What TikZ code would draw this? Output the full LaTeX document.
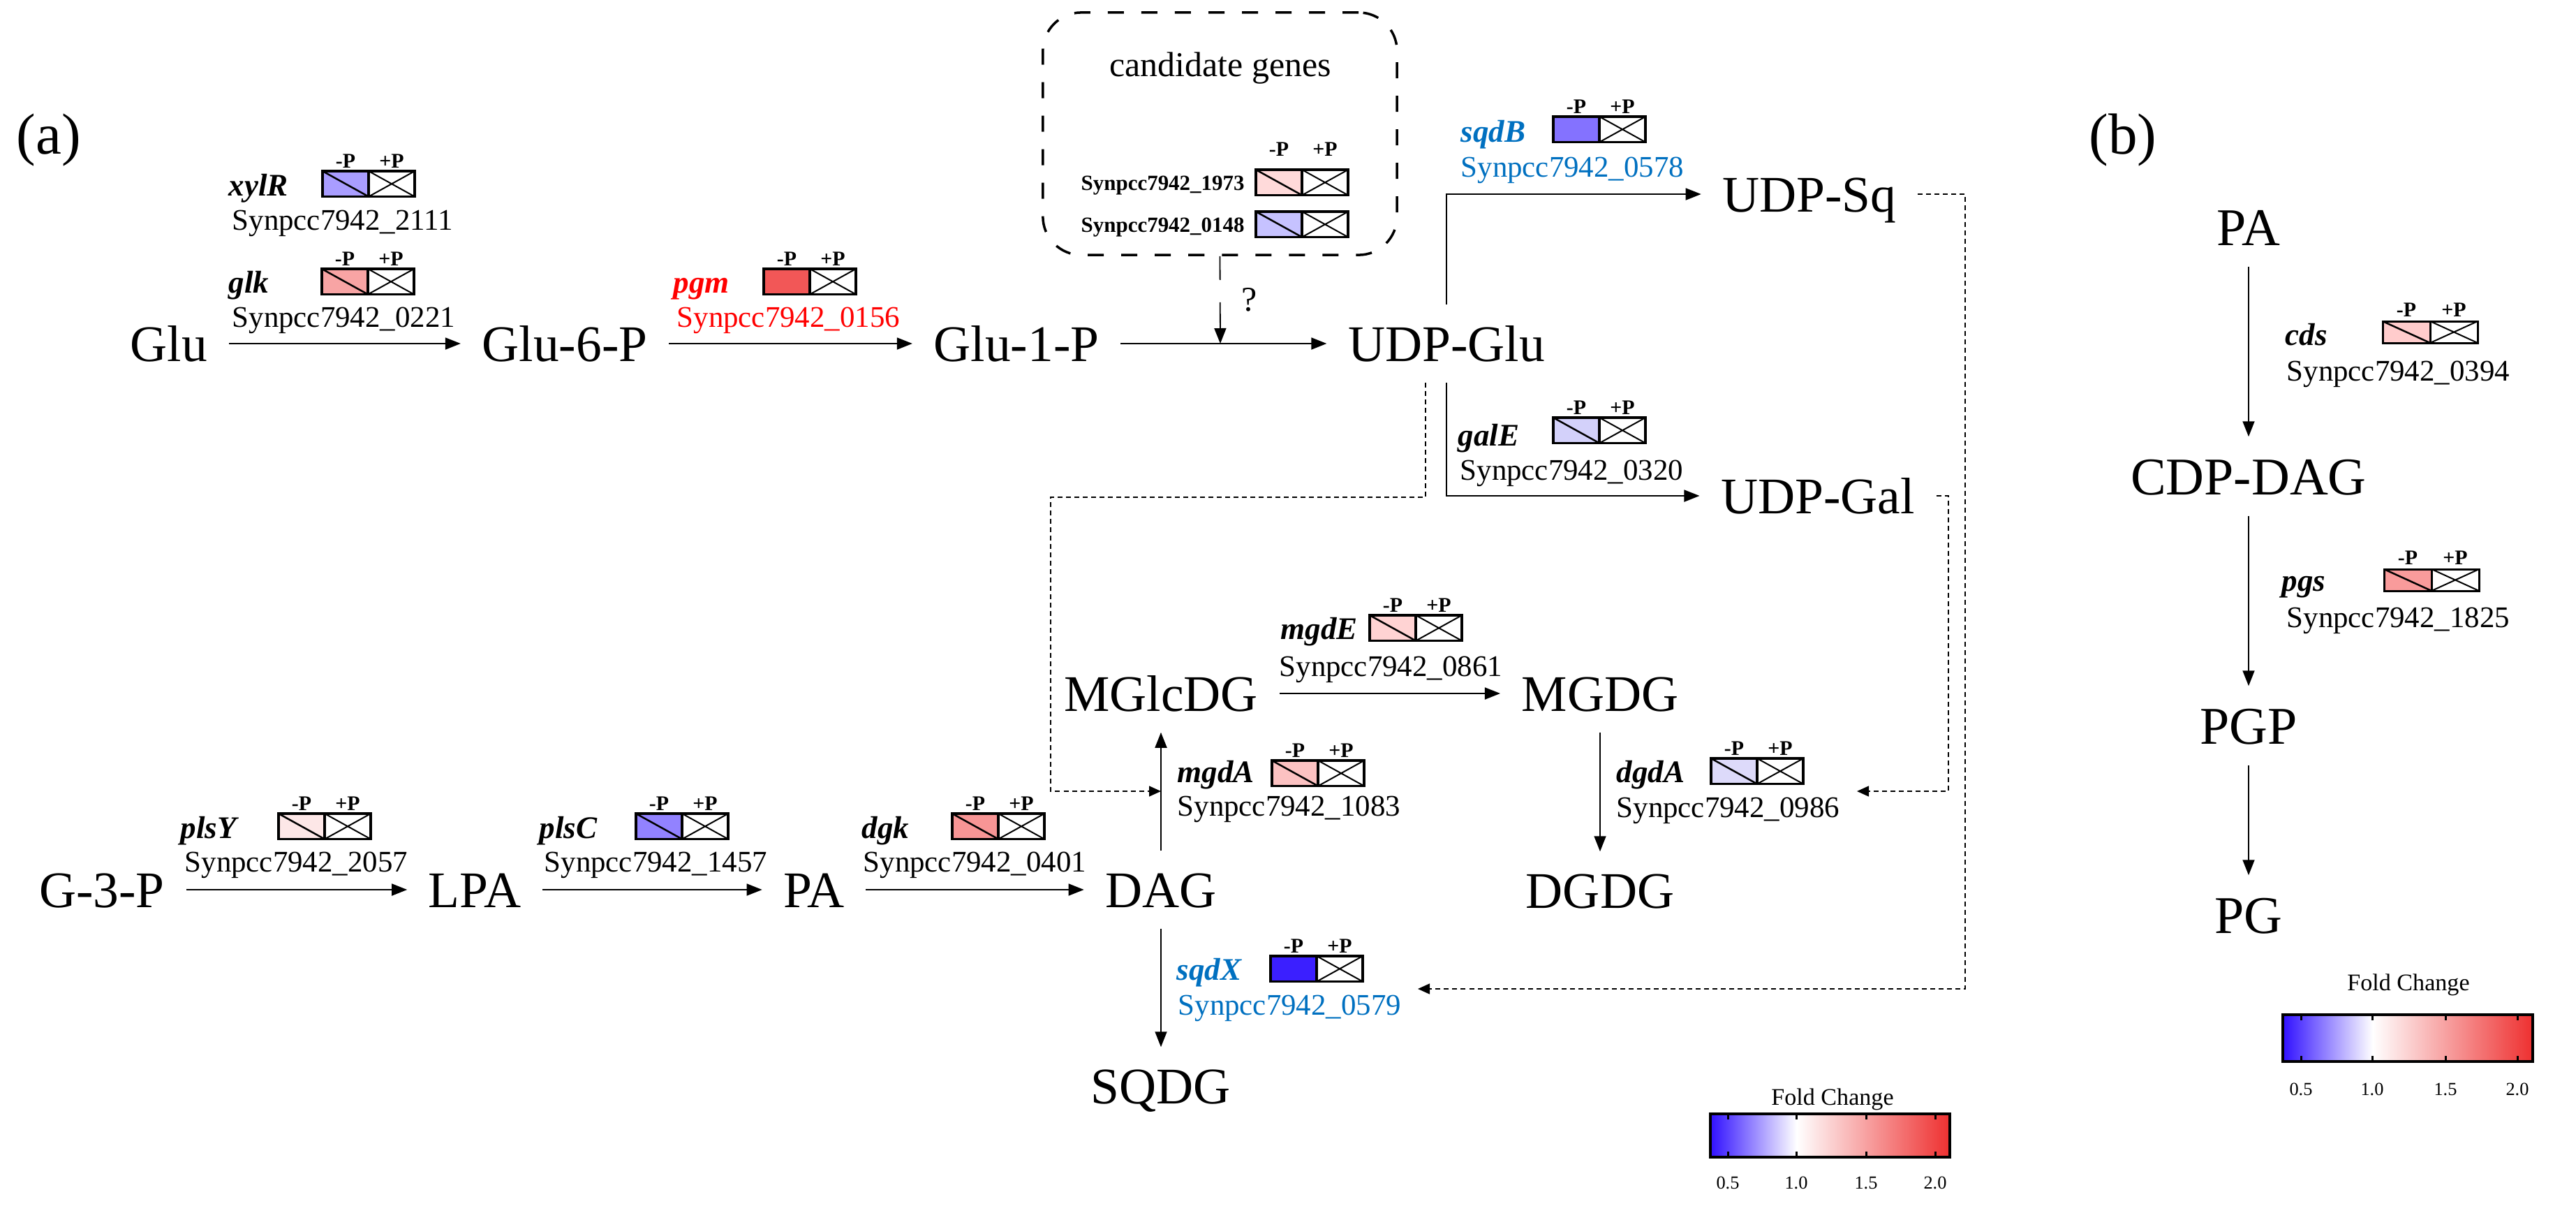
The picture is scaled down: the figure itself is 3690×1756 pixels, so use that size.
\documentclass[tikz,border=0pt]{standalone}
\usepackage{fontspec}
\setmainfont{Liberation Serif}
\usetikzlibrary{arrows.meta}

\definecolor{geneblue}{HTML}{0070C0}
\definecolor{genered}{HTML}{FF0000}
\definecolor{fcblue}{HTML}{3010FF}
\definecolor{fcred}{HTML}{EE3030}
\definecolor{fcxylr}{HTML}{A99DFF}
\definecolor{fcglk}{HTML}{F8A4A4}
\definecolor{fcpgm}{HTML}{F25757}
\definecolor{fcA}{HTML}{FFDADA}
\definecolor{fcB}{HTML}{C6C2FF}
\definecolor{fcsqdb}{HTML}{8472FF}
\definecolor{fcgale}{HTML}{D3D1FA}
\definecolor{fcmgde}{HTML}{FFD3D3}
\definecolor{fcmgda}{HTML}{FCC2C2}
\definecolor{fcdgda}{HTML}{DDDAFA}
\definecolor{fcplsy}{HTML}{FDE7E7}
\definecolor{fcplsc}{HTML}{9282FF}
\definecolor{fcdgk}{HTML}{F79595}
\definecolor{fcsqdx}{HTML}{3B1FFF}
\definecolor{fccds}{HTML}{FFCCCC}
\definecolor{fcpgs}{HTML}{F99B9B}

\pgfdeclarehorizontalshading{foldchange}{100bp}{color(0bp)=(fcblue); color(25bp)=(fcblue); color(43bp)=(white); color(75bp)=(fcred); color(100bp)=(fcred)}

\newcommand{\metsize}{\fontsize{20.9pt}{24pt}\selectfont}
\newcommand{\metbsize}{\fontsize{21.6pt}{25pt}\selectfont}
\newcommand{\gidsize}{\fontsize{12.2pt}{14pt}\selectfont}
\newcommand{\gnsize}{\fontsize{12.8pt}{15pt}\selectfont}
\newcommand{\plabsize}{\fontsize{8.5pt}{10pt}\selectfont}
\newcommand{\candsize}{\fontsize{14.2pt}{17pt}\selectfont}
\newcommand{\candidsize}{\fontsize{8.8pt}{10pt}\selectfont}
\newcommand{\legsize}{\fontsize{9.7pt}{11pt}\selectfont}
\newcommand{\legnumsize}{\fontsize{7.5pt}{9pt}\selectfont}
\newcommand{\panelsize}{\fontsize{23.6pt}{28pt}\selectfont}

% two cells: -P (coloured) and +P (crossed)
\newcommand{\fcpair}[5][]{%
  \node[mcell, fill=#4, #5, #1] (#2m) at (#3) {};
  \node[pcell, #1] (#2p) at (#2m.north east) {};
}
\newcommand{\fclabels}[2][0.05cm]{%
  \node[plab, yshift=#1] at (#2m.north) {-P};
  \node[plab, yshift=#1] at (#2p.north) {+P};
}

\begin{document}
\begin{tikzpicture}[x=0.01cm, y=-0.01cm,
  met/.style={font=\metsize, anchor=base, inner xsep=0.3cm, inner ysep=0.3cm, text height=0.5cm, text depth=0pt},
  metb/.style={met, font=\metbsize, text height=0.52cm},
  gname/.style={font=\gnsize\bfseries\itshape, anchor=base west, inner sep=0pt},
  gid/.style={font=\gidsize, anchor=base west, inner sep=0pt},
  candid/.style={font=\candidsize\bfseries, anchor=base west, inner sep=0pt},
  plab/.style={font=\plabsize\bfseries, anchor=base, inner sep=0pt},
  panel/.style={font=\panelsize, anchor=base, inner sep=0pt},
  mcell/.style={draw, line width=0.035cm, minimum width=0.66cm, minimum height=0.365cm, inner sep=0pt, outer sep=0pt, anchor=north west},
  diag/.style={path picture={\draw[line width=0.025cm] (path picture bounding box.north west) -- (path picture bounding box.south east);}},
  pcell/.style={mcell, fill=white, path picture={\draw[line width=0.02cm] (path picture bounding box.north west) -- (path picture bounding box.south east) (path picture bounding box.south west) -- (path picture bounding box.north east);}},
  small/.style={minimum width=0.68cm, minimum height=0.31cm, line width=0.03cm},
  rxn/.style={line width=0.018cm, -{Triangle[length=0.22cm, width=0.17cm]}},
  feed/.style={line width=0.015cm, dash pattern=on 0.07cm off 0.05cm, -{Triangle[length=0.17cm, width=0.15cm]}},
  candbox/.style={draw, dash pattern=on 0.23cm off 0.25cm, line width=0.035cm, rounded corners=0.55cm, minimum width=5.07cm, minimum height=3.47cm, inner sep=0pt},
  fcbar/.style={draw, line width=0.04cm, shade, shading=foldchange, inner sep=0pt, outer sep=0pt},
  fctick/.style={line width=0.03cm}]
\useasboundingbox (0,0) rectangle (3690,1756);

\node[panel] (lbla) at (70,220) {(a)};
\node[panel] (lblb) at (3041,220) {(b)};

\node[met] (glu) at (242,517) {Glu};
\node[met] (gsix) at (809,517) {Glu-6-P};
\node[met] (gone) at (1456,517) {Glu-1-P};
\node[met] (udpglu) at (2072,517) {UDP-Glu};
\node[met] (udpsq) at (2592,303) {UDP-Sq};
\node[met] (udpgal) at (2604,735) {UDP-Gal};
\node[met] (gthree) at (146,1299) {G-3-P};
\node[met] (lpa) at (680,1299) {LPA};
\node[met] (pa) at (1166,1299) {PA};
\node[met] (dag) at (1663,1299) {DAG};
\node[met] (mglcdg) at (1663,1018) {MGlcDG};
\node[met] (mgdg) at (2292,1018) {MGDG};
\node[met] (dgdg) at (2292,1300) {DGDG};
\node[met] (sqdg) at (1663,1580) {SQDG};
\node[metb] (pab) at (3221,351) {PA};
\node[metb] (cdpdag) at (3221,708) {CDP-DAG};
\node[metb] (pgp) at (3221,1065) {PGP};
\node[metb] (pg) at (3221,1336) {PG};

\node[gname] (xylRn) at (327,280) {xylR};
\node[gid] (xylRid) at (332,329) {Synpcc7942\_2111};
\fcpair{xylR}{462,245}{fcxylr}{diag}\fclabels{xylR}
\node[gname] (glkn) at (327,419) {glk};
\node[gid] (glkid) at (332,468) {Synpcc7942\_0221};
\fcpair{glk}{461,385}{fcglk}{diag}\fclabels{glk}
\node[gname, text=genered] (pgmn) at (964,419) {pgm};
\node[gid, text=genered] (pgmid) at (969,468) {Synpcc7942\_0156};
\fcpair{pgm}{1094,385}{fcpgm}{}\fclabels{pgm}

\node[candbox] (cand) at (1747.5,191.5) {};
\node[font=\candsize, anchor=base] (candt) at (1748,109) {candidate genes};
\node[candid] (cAid) at (1548,272) {Synpcc7942\_1973};
\fcpair{cA}{1799,243}{fcA}{diag}\fclabels[0.2cm]{cA}
\node[candid] (cBid) at (1548,332) {Synpcc7942\_0148};
\fcpair{cB}{1799,303}{fcB}{diag}
\node[font=\candsize, anchor=base] (qm) at (1790,445) {?};
\coordinate (qin) at (1748,492);

\node[gname, text=geneblue] (sqdBn) at (2092,203) {sqdB};
\node[gid, text=geneblue] (sqdBid) at (2092,253) {Synpcc7942\_0578};
\fcpair{sqdB}{2225,167}{fcsqdb}{}\fclabels{sqdB}
\node[gname] (galEn) at (2088,638) {galE};
\node[gid] (galEid) at (2091,687) {Synpcc7942\_0320};
\fcpair{galE}{2225,598}{fcgale}{diag}\fclabels{galE}
\node[gname] (mgdEn) at (1834,915) {mgdE};
\node[gid] (mgdEid) at (1832,968) {Synpcc7942\_0861};
\fcpair{mgdE}{1962,881}{fcmgde}{diag}\fclabels{mgdE}
\node[gname] (mgdAn) at (1686,1120) {mgdA};
\node[gid] (mgdAid) at (1686,1168) {Synpcc7942\_1083};
\fcpair{mgdA}{1822,1089}{fcmgda}{diag}\fclabels{mgdA}
\node[gname] (dgdAn) at (2315,1120) {dgdA};
\node[gid] (dgdAid) at (2315,1170) {Synpcc7942\_0986};
\fcpair{dgdA}{2451,1086}{fcdgda}{diag}\fclabels{dgdA}
\node[gname] (plsYn) at (258,1200) {plsY};
\node[gid] (plsYid) at (264,1248) {Synpcc7942\_2057};
\fcpair{plsY}{399,1165}{fcplsy}{diag}\fclabels{plsY}
\node[gname] (plsCn) at (772,1200) {plsC};
\node[gid] (plsCid) at (779,1248) {Synpcc7942\_1457};
\fcpair{plsC}{911,1165}{fcplsc}{diag}\fclabels{plsC}
\node[gname] (dgkn) at (1234,1200) {dgk};
\node[gid] (dgkid) at (1236,1248) {Synpcc7942\_0401};
\fcpair{dgk}{1364,1165}{fcdgk}{diag}\fclabels{dgk}
\node[gname, text=geneblue] (sqdXn) at (1685,1403) {sqdX};
\node[gid, text=geneblue] (sqdXid) at (1687,1453) {Synpcc7942\_0579};
\fcpair{sqdX}{1820,1369}{fcsqdx}{}\fclabels{sqdX}
\node[gname] (cdsn) at (3273,494) {cds};
\node[gid] (cdsid) at (3275,545) {Synpcc7942\_0394};
\fcpair[small]{cds}{3413,460}{fccds}{diag}\fclabels[0.07cm]{cds}
\node[gname] (pgsn) at (3268,846) {pgs};
\node[gid] (pgsid) at (3275,898) {Synpcc7942\_1825};
\fcpair[small]{pgs}{3415,815}{fcpgs}{diag}\fclabels[0.07cm]{pgs}

\draw[rxn] (glu) -- (gsix);
\draw[rxn] (gsix) -- (gone);
\draw[rxn] (gone) -- (udpglu);
\draw[rxn, dash pattern=on 0.34cm off 0.32cm on 1cm off 0cm] (cand.south) -- (qin);
\draw[rxn] (udpglu.north) |- (udpsq);
\draw[rxn] (udpglu.south) |- (udpgal);
\draw[rxn] (gthree) -- (lpa);
\draw[rxn] (lpa) -- (pa);
\draw[rxn] (pa) -- (dag);
\draw[rxn] (dag) -- (mglcdg);
\draw[rxn] (mglcdg) -- (mgdg);
\draw[rxn] (mgdg) -- (dgdg);
\draw[rxn] (dag) -- (sqdg);
\draw[rxn] (pab) -- (cdpdag);
\draw[rxn] (cdpdag) -- (pgp);
\draw[rxn] (pgp) -- (pg);

\coordinate (mgdin) at (1663,1133);
\coordinate (dgdin) at (2660,1133);
\coordinate (sqdin) at (2031,1416);
\draw[feed] ([xshift=-0.3cm]udpglu.south) |- (1505,712) |- (mgdin);
\draw[feed] (udpgal.east) -| (2791,1133) -- (dgdin);
\draw[feed] (udpsq.east) -| (2815,1416) -- (sqdin);

\node[font=\legsize, anchor=base] (fcat) at (2625,1582) {Fold Change};
\node[fcbar, minimum width=3.43cm, minimum height=0.62cm] (fca) at (2621.5,1626) {};
\foreach \x/\v in {2475/0.5, 2573/1.0, 2673/1.5, 2772/2.0} {
  \draw[fctick] (\x,1597) -- (\x,1603) (\x,1655) -- (\x,1649);
  \node[font=\legnumsize, anchor=base] at (\x,1702) {\v};
}
\node[font=\legsize, anchor=base] (fcbt) at (3450,1418) {Fold Change};
\node[fcbar, minimum width=3.58cm, minimum height=0.67cm] (fcb) at (3449,1486.5) {};
\foreach \x/\v in {3296/0.5, 3398/1.0, 3503/1.5, 3606/2.0} {
  \draw[fctick] (\x,1455) -- (\x,1461) (\x,1518) -- (\x,1512);
  \node[font=\legnumsize, anchor=base] at (\x,1568) {\v};
}
\end{tikzpicture}
\end{document}
